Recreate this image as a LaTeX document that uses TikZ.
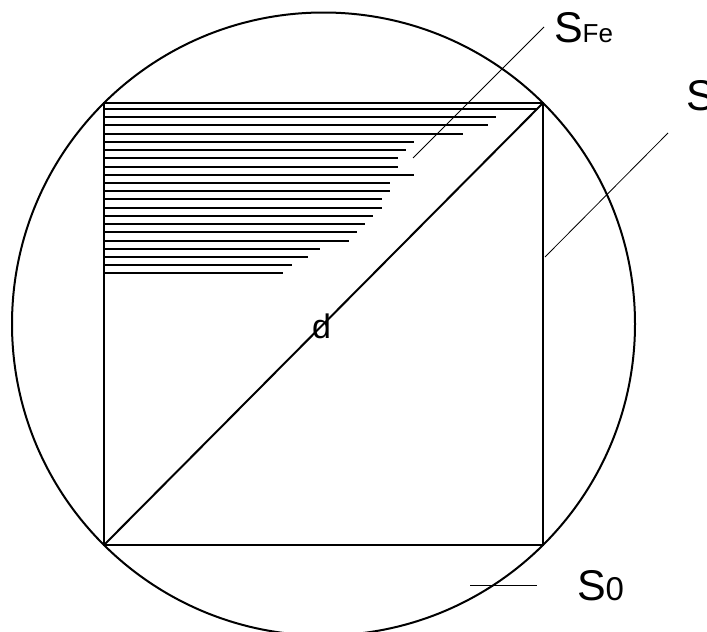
\documentclass[tikz,border=0pt]{standalone}
\usepackage{fontspec}
\setmainfont{Liberation Sans}
\begin{document}
\begin{tikzpicture}[x=1pt, y=-1pt, line width=2pt]
        % Definición de estilos
        \tikzstyle{etiqueta} = [inner sep=0pt, anchor=base west, font=\fontsize{43}{43}\selectfont]
        \tikzstyle{guia} = [line width=0.8pt]
        \tikzstyle{rayado} = [line width=2pt]
        \useasboundingbox (0,0) rectangle (707,632);

        % Puntos del cuadrado
        \coordinate (supIzq) at (104,103);
        \coordinate (supDer) at (543,103);
        \coordinate (infIzq) at (104,545);
        \coordinate (infDer) at (543,545);
        \coordinate (centro) at (323.5,324);

        % Cuadrado, circulo y diagonal
        \draw (supIzq) rectangle (infDer);
        \draw (centro) circle[radius=311.5];
        \draw (infIzq) -- (supDer);

        % Rayado
        \foreach \y/\x in {109.3/538, 117.3/496, 125.3/488, 133.7/463, 142/414, 150.3/406, 158.3/398,
                           166.7/398, 175/414, 183/390, 191.3/390, 199.3/382, 207.7/382, 216/373,
                           224/365, 232.3/357, 240.7/349, 248.7/320, 257/308, 265/292, 273.3/283}
            \draw[rayado] (104,\y) -- (\x,\y);

        % Etiquetas
        \node[etiqueta] (sFe) at (553,42) {S{\fontsize{26}{26}\selectfont Fe}};
        \node[etiqueta] (sCirculo) at (685,110) {S};
        \node[etiqueta] (sCero) at (576,600) {S{\fontsize{33}{33}\selectfont 0}};
        \node[etiqueta, font=\fontsize{34}{34}\selectfont] (diag) at (311,338) {d};

        % Lineas guia
        \coordinate (finFe) at (413,158);
        \coordinate (iniFe) at (544,27);
        \coordinate (finS) at (545,257);
        \coordinate (iniS) at (668,133);
        \coordinate (finCero) at (470,585);
        \coordinate (iniCero) at (537,585);
        \draw[guia] (finFe) -- (iniFe);
        \draw[guia] (finS) -- (iniS);
        \draw[guia] (finCero) -- (iniCero);
    \end{tikzpicture}
\end{document}
